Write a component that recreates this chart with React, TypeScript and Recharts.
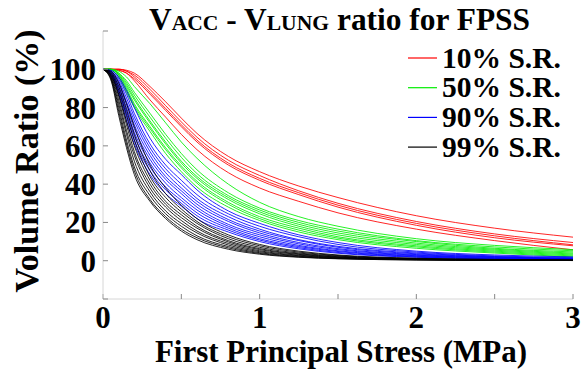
import { LineChart, Line, XAxis, YAxis } from "recharts";

// first principal stress (MPa) at which the curves were read
const STRESS = [0, 0.05, 0.1, 0.15, 0.2, 0.3, 0.4, 0.5, 0.6, 0.8, 1.0, 1.25, 1.5, 2.0, 2.5, 3.0];

// volume ratio (%) per curve, one array per specimen
const SR10 = [
  [100, 100, 100, 99.5, 98, 91, 83, 74.5, 66.5, 54.5, 46.5, 39, 33, 23.5, 17, 12.3],
  [100, 100, 100, 99, 97, 89.5, 81, 72.5, 64.5, 52.5, 44.5, 36.5, 30, 20.5, 14, 9.5],
  [100, 100, 100, 99, 96, 88, 79.5, 71, 63, 51, 43, 35.5, 29, 19.5, 13, 8.3],
  [100, 100, 99.5, 98, 95, 87, 78.5, 70, 62, 50, 42, 34.5, 28, 18.5, 12, 7.8],
  [100, 100, 99.5, 98, 94, 84, 75, 66, 58, 46, 38, 31, 25, 16.5, 10.5, 5.7],
];

const SR50 = [
  [100, 100, 99, 96, 91, 82, 72, 62, 53.5, 40, 30.5, 23, 18, 11.5, 8, 5.8],
  [100, 100, 98, 94, 88, 77, 66, 56, 47.5, 35.5, 27.5, 21, 16.5, 10.5, 7.2, 5.2],
  [100, 100, 98, 93, 86.5, 75, 64, 54, 45.5, 34, 26.5, 20, 15.5, 10, 6.5, 4.6],
  [100, 100, 97.5, 92, 85, 73, 62, 52, 44, 33, 25.5, 19, 14.5, 9.2, 6, 4.0],
  [100, 100, 97, 91, 84, 72, 61, 51, 43, 32, 24.5, 18, 13.5, 8.5, 5.5, 3.5],
  [100, 100, 97, 90, 82, 70, 59, 49.5, 41.5, 30.5, 23, 17, 12.5, 7.8, 5, 3.0],
  [100, 99.5, 96, 89, 81, 69, 58, 48.5, 40.5, 29.5, 22, 16, 11.8, 7.2, 4.5, 2.5],
  [100, 99.5, 96, 88, 80, 67.5, 56, 46.5, 38.5, 28, 21, 15, 11, 6.5, 4, 2.0],
];

const SR90 = [
  [100, 99.5, 96, 89, 80, 64, 53, 45, 37, 26, 19.5, 13.5, 9.5, 5, 3, 2],
  [100, 99, 95, 87, 77, 61, 50, 42, 34.5, 24.5, 18, 12.5, 8.5, 4.5, 2.5, 1.6],
  [100, 99, 94, 85, 75, 59, 48, 40, 32.5, 23, 16.5, 11, 7.5, 4, 2.2, 1.3],
  [100, 98.5, 93, 83, 73, 57, 46, 38, 31, 21.5, 15.5, 10.5, 7, 3.6, 2, 1.1],
  [100, 98.5, 92, 82, 71, 55, 44, 36.5, 29.5, 20.5, 14.5, 9.5, 6.3, 3.2, 1.8, 1.0],
  [100, 98, 91, 80, 69, 53, 42.5, 35, 28, 19, 13.5, 8.8, 5.8, 2.9, 1.6, 0.9],
  [100, 98, 90, 78, 67, 51, 40.5, 33, 26.5, 18, 12.5, 8, 5.2, 2.6, 1.4, 0.8],
  [100, 97.5, 89, 77, 65, 49, 38.5, 31.5, 25, 17, 11.5, 7.4, 4.8, 2.3, 1.2, 0.7],
  [100, 97, 88, 75, 63, 47, 37, 30, 23.5, 16, 10.8, 6.8, 4.3, 2.0, 1.0, 0.6],
  [100, 97, 87, 73, 61, 45, 35, 28.5, 22, 15, 10, 6.2, 3.9, 1.8, 0.9, 0.5],
];

const SR99 = [
  [100, 99, 93, 82, 70, 50, 38, 29, 22, 13.5, 8.5, 5, 3, 1.3, 0.7, 0.4],
  [100, 98.5, 91, 79, 66, 47, 35, 27, 20.5, 12.5, 7.8, 4.5, 2.7, 1.1, 0.6, 0.3],
  [100, 98, 89, 76, 63, 44, 33, 25.5, 19.5, 11.5, 7, 4, 2.4, 1.0, 0.5, 0.3],
  [100, 97.5, 87, 73, 60, 42, 31, 24, 18, 10.5, 6.3, 3.6, 2.1, 0.9, 0.4, 0.2],
  [100, 97, 86, 71, 57, 40, 29.5, 22.5, 17, 9.8, 5.8, 3.3, 1.9, 0.8, 0.4, 0.2],
  [100, 96.5, 84, 68, 55, 38, 28, 21, 15.5, 9, 5.2, 2.9, 1.7, 0.7, 0.3, 0.1],
  [100, 96, 82, 66, 52, 36, 26, 19.5, 14.5, 8.2, 4.7, 2.6, 1.5, 0.6, 0.3, 0.1],
  [100, 95.5, 80, 63, 49, 34, 24.5, 18, 13, 7.4, 4.2, 2.3, 1.3, 0.5, 0.2, 0.1],
  [100, 95, 78, 61, 47, 32, 23, 16.5, 12, 6.7, 3.8, 2.0, 1.1, 0.4, 0.2, 0.1],
  [100, 94.5, 76, 59, 45, 31, 22, 15.5, 11, 6, 3.4, 1.8, 1.0, 0.4, 0.2, 0.1],
];

const X_TICKS = [0, 0.5, 1, 1.5, 2, 2.5, 3];
const Y_TICKS = [-20, 0, 20, 40, 60, 80, 100, 120];

const GROUPS = [
  { key: "sr10", label: "10% S.R.", color: "#ff0000", curves: SR10 },
  { key: "sr50", label: "50% S.R.", color: "#00ee00", curves: SR50 },
  { key: "sr90", label: "90% S.R.", color: "#0000ff", curves: SR90 },
  { key: "sr99", label: "99% S.R.", color: "#000000", curves: SR99 },
];

const rows = STRESS.map((x, i) => {
  const row: Record<string, number> = { x };
  GROUPS.forEach((g) => {
    g.curves.forEach((c, j) => {
      row[`${g.key}_${j}`] = c[i];
    });
  });
  return row;
});

const FONT = "Liberation Serif, Times New Roman, serif";
const tickStyle = { fontFamily: FONT, fontWeight: 700, fontSize: 31, fill: "#000" };

function Decorations() {
  return (
    <g fontFamily={FONT} fontWeight={700} fill="#000">
      <text x={149} y={30} fontSize={32} textLength={381} lengthAdjust="spacingAndGlyphs">
        <tspan>V</tspan>
        <tspan fontSize={22}>ACC</tspan>
        <tspan> - V</tspan>
        <tspan fontSize={22}>LUNG</tspan>
        <tspan> ratio for FPSS</tspan>
      </text>
      <text x={341} y={362} fontSize={31} textAnchor="middle">
        First Principal Stress (MPa)
      </text>
      <text transform="translate(38, 161) rotate(-90)" fontSize={34} textAnchor="middle">
        Volume Ratio (%)
      </text>
      {GROUPS.map((g, i) => {
        const y = 58 + i * 29.7;
        return (
          <g key={g.key}>
            <line x1={408} x2={437} y1={y} y2={y} stroke={g.color} strokeWidth={1.2} />
            <text x={442} y={y + 9.5} fontSize={29.5}>
              {g.label}
            </text>
          </g>
        );
      })}
    </g>
  );
}

export default function App() {
  return (
    <div style={{ position: "absolute", left: 0, top: 0, background: "#fff" }}>
      <LineChart
        width={581}
        height={373}
        data={rows}
        margin={{ top: 31, right: 8, left: 0, bottom: 0 }}
      >
        <XAxis
          type="number"
          dataKey="x"
          domain={[0, 3]}
          ticks={X_TICKS}
          interval={0}
          tickFormatter={(v: number) => (Number.isInteger(v) ? String(v) : "")}
          height={74}
          tickSize={-5}
          tickMargin={12}
          axisLine={{ stroke: "#d6d6d6" }}
          tickLine={{ stroke: "#888" }}
          tick={tickStyle}
        />
        <YAxis
          type="number"
          domain={[-20, 120]}
          ticks={Y_TICKS}
          interval={0}
          tickFormatter={(v: number) => (v >= 0 && v <= 100 ? String(v) : "")}
          width={103}
          tickSize={-5}
          tickMargin={12}
          axisLine={{ stroke: "#d6d6d6" }}
          tickLine={{ stroke: "#888" }}
          tick={tickStyle}
        />
        {GROUPS.map((g) =>
          g.curves.map((_, j) => (
            <Line
              key={`${g.key}_${j}`}
              type="monotone"
              dataKey={`${g.key}_${j}`}
              stroke={g.color}
              strokeWidth={1}
              strokeOpacity={0.85}
              dot={false}
              activeDot={false}
              isAnimationActive={false}
            />
          ))
        )}
        <Decorations />
      </LineChart>
    </div>
  );
}
